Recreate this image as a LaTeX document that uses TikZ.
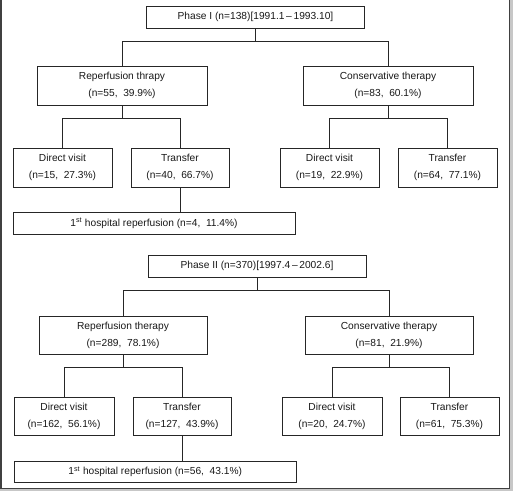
\documentclass[tikz,border=0pt]{standalone}
\usepackage{fontspec}
\setmainfont{Liberation Sans}
\begin{document}
\begin{tikzpicture}[x=1pt,y=-1pt,
  box/.style={draw=black!85, line width=0.9pt, fill=white, inner sep=0pt, align=center,
    font=\fontsize{10.2}{17}\selectfont, text=black!90},
  conn/.style={draw=black!85, line width=0.9pt}]
\useasboundingbox (0,0) rectangle (513,491);
\fill[black!22] (0,0) rectangle (513,491);
\fill[white] (1.5,0) rectangle (509,488);
\draw[black!75, line width=1.6pt] (0.8,0) -- (0.8,488.6) -- (509.6,488.6) -- (509.6,0);
% Phase I
\node[box, minimum width=218pt, minimum height=22pt] (P1) at (255.5,17) {Phase I (n=138)[1991.1\,–\,1993.10]};
\node[box, minimum width=170pt, minimum height=39pt] (R1) at (122,85.5) {Reperfusion thrapy\\(n=55,\ \ 39.9\%)};
\node[box, minimum width=170pt, minimum height=39pt] (C1) at (388,85.5) {Conservative therapy\\(n=83,\ \ 60.1\%)};
\node[box, minimum width=99pt, minimum height=39pt] (D1) at (62.5,167.5) {Direct visit\\(n=15,\ \ 27.3\%)};
\node[box, minimum width=98pt, minimum height=39pt] (T1) at (180,167.5) {Transfer\\(n=40,\ \ 66.7\%)};
\node[box, minimum width=99pt, minimum height=39pt] (D2) at (329.5,167.5) {Direct visit\\(n=19,\ \ 22.9\%)};
\node[box, minimum width=99pt, minimum height=39pt] (T2) at (447.5,167.5) {Transfer\\(n=64,\ \ 77.1\%)};
\node[box, minimum width=282pt, minimum height=22pt] (H1) at (154,223) {1\textsuperscript{st} hospital reperfusion (n=4,\ \ 11.4\%)};
\draw[conn] (P1.south) -- ++(0,13) coordinate (j1);
\draw[conn] (R1.north) |- (j1) -| (C1.north);
\draw[conn] (R1.south) -- ++(0,12.5) coordinate (j2);
\draw[conn] (D1.north) |- (j2) -| (T1.north);
\draw[conn] (C1.south) -- ++(0,12.5) coordinate (j3);
\draw[conn] (D2.north) |- (j3) -| (T2.north);
\draw[conn] (T1.south) -- (T1.south |- H1.north);
% Phase II
\node[box, minimum width=218pt, minimum height=22pt] (P2) at (257,266) {Phase II (n=370)[1997.4\,–\,2002.6]};
\node[box, minimum width=168pt, minimum height=38pt] (R2) at (123,335) {Reperfusion therapy\\(n=289,\ \ 78.1\%)};
\node[box, minimum width=168pt, minimum height=38pt] (C2) at (389,335) {Conservative therapy\\(n=81,\ \ 21.9\%)};
\node[box, minimum width=100pt, minimum height=38pt] (D3) at (64,416) {Direct visit\\(n=162,\ \ 56.1\%)};
\node[box, minimum width=98pt, minimum height=38pt] (T3) at (182,416) {Transfer\\(n=127,\ \ 43.9\%)};
\node[box, minimum width=100pt, minimum height=38pt] (D4) at (332,416) {Direct visit\\(n=20,\ \ 24.7\%)};
\node[box, minimum width=99pt, minimum height=38pt] (T4) at (449.5,416) {Transfer\\(n=61,\ \ 75.3\%)};
\node[box, minimum width=282.5pt, minimum height=21.5pt] (H2) at (155.25,471.75) {1\textsuperscript{st} hospital reperfusion (n=56,\ \ 43.1\%)};
\draw[conn] (P2.south) -- ++(0,12.5) coordinate (k1);
\draw[conn] (R2.north) |- (k1) -| (C2.north);
\draw[conn] (R2.south) -- ++(0,12.5) coordinate (k2);
\draw[conn] (D3.north) |- (k2) -| (T3.north);
\draw[conn] (C2.south) -- ++(0,12.5) coordinate (k3);
\draw[conn] (D4.north) |- (k3) -| (T4.north);
\draw[conn] (T3.south) -- (T3.south |- H2.north);
\end{tikzpicture}
\end{document}
